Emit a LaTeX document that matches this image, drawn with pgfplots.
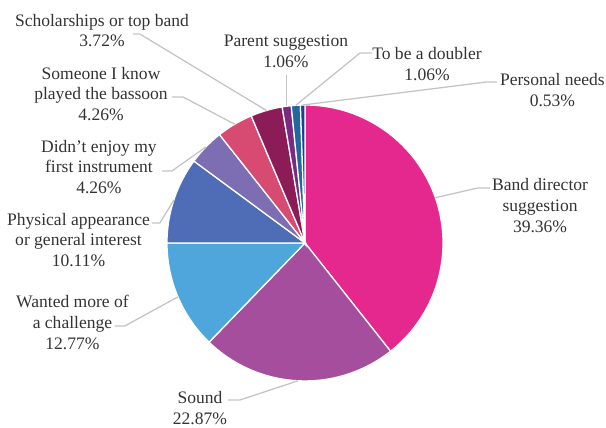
\documentclass[border=0pt]{standalone}
\usepackage{pgfplots}
\pgfplotsset{compat=1.18}
\usepackage{fontspec}
\setmainfont{Liberation Serif}
\definecolor{cBand}{HTML}{E4288E}
\definecolor{cSound}{HTML}{A44E9D}
\definecolor{cWant}{HTML}{4FA6DC}
\definecolor{cPhys}{HTML}{4F6DB6}
\definecolor{cDidnt}{HTML}{7D6DB3}
\definecolor{cSome}{HTML}{D74A71}
\definecolor{cSchol}{HTML}{8B1C58}
\definecolor{cParent}{HTML}{7A2A82}
\definecolor{cDoub}{HTML}{22679E}
\definecolor{cPers}{HTML}{1E3F8E}
\definecolor{txt}{HTML}{333333}
\definecolor{lead}{HTML}{C4C4C4}
\tikzset{lbl/.style={font=\fontsize{12.35}{14.7}\selectfont, text=txt, align=center, inner sep=0pt}}
% slice: cumulative start %, cumulative end %, colour
\newcommand{\slice}[3]{%
  \addplot[fill=#3, draw=white, line width=0.9pt, domain={90-3.6*#2}:{90-3.6*#1}, samples=80, variable=\t]
    ({cos(\t)},{sin(\t)}) -- (axis cs:0,0) -- cycle;
}
\begin{document}
\begin{tikzpicture}
\begin{axis}[
  width=15cm, height=10.594cm, scale only axis,
  xmin=-2.210, xmax=2.181, ymin=-1.341, ymax=1.761,
  hide axis, clip=false,
]
% percentages: 39.36, 22.87, 12.77, 10.11, 4.26, 4.26, 3.72, 1.06, 1.06, 0.53
\slice{0}{39.36}{cBand}
\slice{39.36}{62.23}{cSound}
\slice{62.23}{75.00}{cWant}
\slice{75.00}{85.11}{cPhys}
\slice{85.11}{89.37}{cDidnt}
\slice{89.37}{93.63}{cSome}
\slice{93.63}{97.35}{cSchol}
\slice{97.35}{98.41}{cParent}
\slice{98.41}{99.47}{cDoub}
\slice{99.47}{100}{cPers}
% leader lines
\addplot[lead, line width=0.9pt, mark=none] coordinates {(-1.246,1.514) (-1.196,1.514) (-0.2795,0.9601)};
\addplot[lead, line width=0.9pt, mark=none] coordinates {(-0.964,1.058) (-0.884,1.058) (-0.5090,0.8607)};
\addplot[lead, line width=0.9pt, mark=none] coordinates {(-1.036,0.522) (-0.964,0.522) (-0.7184,0.6957)};
\addplot[lead, line width=0.9pt, mark=none] coordinates {(-1.109,0.145) (-1.051,0.145) (-0.950,0.312)};
\addplot[lead, line width=0.9pt, mark=none] coordinates {(-1.377,-0.601) (-1.304,-0.601) (-0.9205,-0.3907)};
\addplot[lead, line width=0.9pt, mark=none] coordinates {(-0.558,-1.138) (-0.471,-1.138) (-0.0501,-0.9987)};
\addplot[lead, line width=0.9pt, mark=none] coordinates {(1.341,0.399) (1.254,0.399) (0.9447,0.3280)};
\addplot[lead, line width=0.9pt, mark=none] coordinates {(-0.1328,1.217) (-0.1328,0.9911)};
\addplot[lead, line width=0.9pt, mark=none] coordinates {(0.486,1.377) (0.399,1.377) (-0.0666,0.9978)};
\addplot[lead, line width=0.9pt, mark=none] coordinates {(1.391,1.167) (1.319,1.167) (-0.0166,0.9999)};
% labels
\node[lbl] at (axis cs:-1.471,1.540) {Scholarships or top band\\3.72\%};
\node[lbl] at (axis cs:-1.478,1.080) {Someone I know\\played the bassoon\\4.26\%};
\node[lbl] at (axis cs:-1.493,0.551) {Didn’t enjoy my\\first instrument\\4.26\%};
\node[lbl] at (axis cs:-1.641,0.022) {Physical appearance\\or general interest\\10.11\%};
\node[lbl] at (axis cs:-1.685,-0.578) {Wanted more of\\a challenge\\12.77\%};
\node[lbl] at (axis cs:-0.761,-1.196) {Sound\\22.87\%};
\node[lbl] at (axis cs:1.703,0.270) {Band director\\suggestion\\39.36\%};
\node[lbl] at (axis cs:-0.138,1.391) {Parent suggestion\\1.06\%};
\node[lbl] at (axis cs:0.884,1.297) {To be a doubler\\1.06\%};
\node[lbl] at (axis cs:1.793,1.109) {Personal needs\\0.53\%};
\end{axis}
\pgfresetboundingbox
\path (current axis.south west) rectangle (current axis.north east);
\end{tikzpicture}
\end{document}
